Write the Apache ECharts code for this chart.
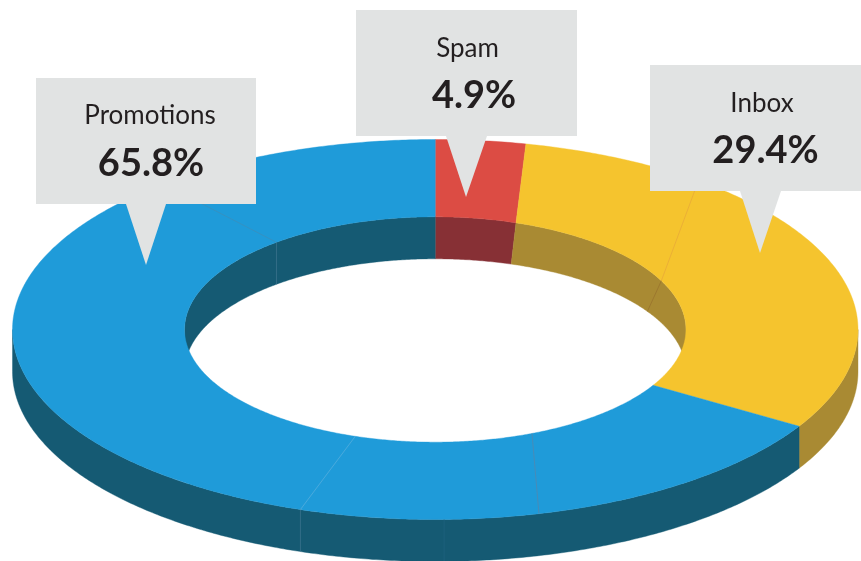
<!DOCTYPE html>
<html><head><meta charset="utf-8">
<style>html,body{margin:0;padding:0;background:#fff}#c{width:861px;height:561px}</style>
<script src="https://cdn.jsdelivr.net/npm/echarts@6/dist/echarts.min.js"></script>
</head><body><div id="c"></div>
<script>
// values
const categories = ['Spam', 'Inbox', 'Promotions'];
const shareLabels = [4.9, 29.4, 65.8];          // printed percentages
// sweep of each slice as drawn (percent of the ring)
const outerEdgeShare = [3.44, 30.06, 66.5];
const innerEdgeShare = [5.22, 28.02, 66.76];
const holeWallShare  = [4.9, 29.4, 65.7];
// faint seams inside slices: [angle A, ring A, drop A, angle B, ring B, drop B]
const seamRows = [
  [320, 1, 0, 320.7, 0, 0], [320.7, 0, 0, 320.7, 0, 1],
  [198.6, 0, 0, 198.6, 1, 0], [198.6, 1, 0, 198.6, 1, 1],
  [157.3, 0, 0, 165.8, 1, 0], [178.8, 1, 0, 178.8, 1, 1],
  [64.4, 0, 0, 38.5, 1, 0], [64.4, 0, 0, 57.8, 0, 1]
];

// styles and layout
const topColors = ['#dc4c44', '#f5c42e', '#1f9bd9'];
const wallColors = ['#873035', '#a98a33', '#155a73'];
const seamColors = ['#3d8cb8', '#3f7690', '#5cb0de', '#3f7690', '#5a84a8', '#1f6480', '#e6a63a', '#97702c'];
const holeRatio = 0.593, depth = 0.221;
const callouts = [
  {x:356,y:10,w:221,h:126,p:[446,487,466,197],nameX:467.5,nameY:48.5,valX:474,valY:96},
  {x:650,y:65,w:211,h:126,p:[740,781,760,253],nameX:762,nameY:103.5,valX:765.5,valY:151},
  {x:36,y:78,w:220,h:126,p:[126,166,146,265],nameX:150,nameY:115.5,valX:151,valY:164}
];

const ends = s => { let c = 0; return s.map(v => { const a = c; c += v * 3.6; return [a, c]; }); };
const outerA = ends(outerEdgeShare), innerA = ends(innerEdgeShare), wallA = ends(holeWallShare);
outerA[2][1] = innerA[2][1] = wallA[2][1] = 360;

function pt(api, deg, ring, drop) {
  const t = deg * Math.PI / 180;
  return api.coord([ring * Math.sin(t), ring * Math.cos(t) - drop * depth]);
}
function arc(api, a, b, ring, drop) {
  const out = [], n = Math.max(2, Math.ceil(Math.abs(b - a) * 2));
  for (let k = 0; k <= n; k++) out.push(pt(api, a + (b - a) * k / n, ring, drop));
  return out;
}
const poly = (points, fill) => ({type: 'polygon', shape: {points}, style: {fill, stroke: fill, lineWidth: 0.4}});

function innerWall(p, api) {
  const i = p.dataIndex, c = (v) => [Math.max(v[0], i === 2 ? 270 : 0), Math.min(v[1], i === 2 ? 360 : 90)];
  const t = c(innerA[i]), b = c(wallA[i]);
  return poly(arc(api, t[0], t[1], holeRatio, 0).concat(arc(api, b[1], b[0], holeRatio, 1)), wallColors[i]);
}
function outerWall(p, api) {
  const i = p.dataIndex, a = Math.max(outerA[i][0], 90), b = Math.min(outerA[i][1], 270);
  if (b <= a) return null;
  return poly(arc(api, a, b, 1, 0).concat(arc(api, b, a, 1, 1)), wallColors[i]);
}
function topFace(p, api) {
  const i = p.dataIndex;
  return poly(arc(api, outerA[i][0], outerA[i][1], 1, 0).concat(arc(api, innerA[i][1], innerA[i][0], holeRatio, 0)), topColors[i]);
}
function seam(p, api) {
  const r = seamRows[p.dataIndex];
  const ring = v => v === 1 ? 1 : holeRatio;
  const A = pt(api, r[0], ring(r[1]), r[2]), B = pt(api, r[3], ring(r[4]), r[5]);
  return {type: 'line', shape: {x1: A[0], y1: A[1], x2: B[0], y2: B[1]},
          style: {stroke: seamColors[p.dataIndex], lineWidth: 0.7}};
}
const sliceData = categories.map((c, i) => [i, shareLabels[i]]);
const customSeries = (name, renderItem, data, z) => ({
  type: 'custom', name, renderItem, data, z, silent: true, clip: false, animation: false, coordinateSystem: 'cartesian2d'
});

const graphicEls = [];
callouts.forEach((b, i) => {
  graphicEls.push({type: 'rect', z: 100, shape: {x: b.x, y: b.y, width: b.w, height: b.h}, style: {fill: '#e1e3e3'}});
  graphicEls.push({type: 'polygon', z: 100, shape: {points: [[b.p[0], b.y + b.h], [b.p[1], b.y + b.h], [b.p[2], b.p[3]]]}, style: {fill: '#e1e3e3'}});
  graphicEls.push({type: 'text', z: 101, x: b.nameX, y: b.nameY, style: {text: categories[i], fill: '#231f20',
    font: '400 26px Lato', align: 'center', verticalAlign: 'middle'}});
  graphicEls.push({type: 'text', z: 101, x: b.valX, y: b.valY, style: {text: shareLabels[i].toFixed(1) + '%', fill: '#231f20',
    font: '700 38px Lato', align: 'center', verticalAlign: 'middle'}});
});

const chart = echarts.init(document.getElementById('c'), null, {renderer: 'canvas'});
chart.setOption({
  animation: false,
  backgroundColor: '#ffffff',
  grid: {left: 12.5, right: 3, top: 139.5, bottom: 41.5},
  xAxis: {type: 'value', min: -1, max: 1, show: false},
  yAxis: {type: 'value', min: -1, max: 1, show: false},
  series: [
    customSeries('Hole wall', innerWall, sliceData, 1),
    customSeries('Outer wall', outerWall, sliceData, 2),
    customSeries('Top face', topFace, sliceData, 3),
    customSeries('Seams', seam, seamRows.map((r, i) => [i, i]), 4)
  ],
  graphic: {elements: graphicEls}
});
</script></body></html>
